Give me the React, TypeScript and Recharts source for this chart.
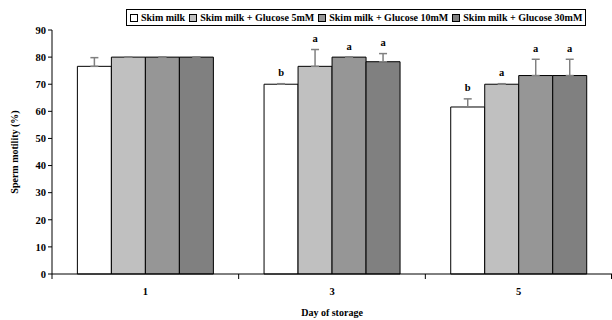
import { BarChart, Bar, XAxis, YAxis, ErrorBar, LabelList, Legend } from 'recharts'

const days = ['1', '3', '5']
const skim = [76.6, 70, 61.6]
const gluc5 = [80, 76.6, 70]
const gluc10 = [80, 80, 73.2]
const gluc30 = [80, 78.3, 73.2]

const skimErr = [3.2, 0.2, 3]
const gluc5Err = [0, 6.2, 0.2]
const gluc10Err = [0, 0, 6]
const gluc30Err = [0, 3, 6]

const skimSig = ['', 'b', 'b']
const gluc5Sig = ['', 'a', 'a']
const gluc10Sig = ['', 'a', 'a']
const gluc30Sig = ['', 'a', 'a']

const yTicks = [0, 10, 20, 30, 40, 50, 60, 70, 80, 90]

const FONT = "'Liberation Serif', 'Times New Roman', serif"

const series = [
  { key: 'skim', name: 'Skim milk', color: '#ffffff', values: skim, err: skimErr, sig: skimSig },
  { key: 'g5', name: 'Skim milk + Glucose 5mM', color: '#c0c0c0', values: gluc5, err: gluc5Err, sig: gluc5Sig },
  { key: 'g10', name: 'Skim milk + Glucose 10mM', color: '#969696', values: gluc10, err: gluc10Err, sig: gluc10Sig },
  { key: 'g30', name: 'Skim milk + Glucose 30mM', color: '#808080', values: gluc30, err: gluc30Err, sig: gluc30Sig },
]

const data = days.map((day, i) => {
  const row: Record<string, unknown> = { day }
  series.forEach(s => {
    row[s.key] = s.values[i]
    row[`${s.key}_err`] = [0, s.err[i]]
    row[`${s.key}_sig`] = s.sig[i]
  })
  return row
})

const TICK_SIZE = 5
const TICK_MARGIN = 2

// Excel-style: tick marks sit between categories, labels in the middle
function DayTick(props: any) {
  const { x, y, payload, index } = props
  const half = payload?.offset || 93.3
  const axisY = y - TICK_SIZE - TICK_MARGIN
  const last = index === days.length - 1
  return (
    <g>
      <line x1={x - half} y1={axisY} x2={x - half} y2={axisY + TICK_SIZE} stroke="#000" />
      {last && <line x1={x + half - 0.5} y1={axisY} x2={x + half - 0.5} y2={axisY + TICK_SIZE} stroke="#000" />}
      <text x={x} y={axisY + 21} textAnchor="middle" fill="#000" fontFamily={FONT} fontWeight="bold" fontSize={10.5}>
        {payload.value}
      </text>
    </g>
  )
}

function LegendBox() {
  return (
    <div
      style={{
        display: 'flex',
        alignItems: 'center',
        border: '1px solid #000',
        padding: '1px 3px',
        background: '#fff',
        fontFamily: FONT,
        fontWeight: 'bold',
        fontSize: 10,
        whiteSpace: 'nowrap',
        lineHeight: '13px',
      }}
    >
      {series.map((s, i) => (
        <span key={s.key} style={{ display: 'flex', alignItems: 'center', marginLeft: i ? 4 : 0 }}>
          <span
            style={{
              display: 'inline-block',
              width: 6,
              height: 6,
              border: '1px solid #000',
              background: s.color,
              marginRight: 3,
            }}
          />
          {s.name}
        </span>
      ))}
    </div>
  )
}

export default function App() {
  const tickStyle = { fill: '#000', fontSize: 10.5, fontFamily: FONT, fontWeight: 'bold' }
  return (
    <div style={{ position: 'absolute', left: 0, top: 0, background: '#fff' }}>
      <BarChart
        width={612}
        height={320}
        data={data}
        margin={{ top: 30, right: 0, bottom: 0, left: 0 }}
        barCategoryGap="13.6%"
        barGap={0}
      >
        <XAxis
          dataKey="day"
          stroke="#000"
          tickLine={{ stroke: 'none' }}
          tickSize={TICK_SIZE}
          tickMargin={TICK_MARGIN}
          tick={<DayTick />}
          interval={0}
          height={46}
          label={{
            value: 'Day of storage',
            position: 'insideBottom',
            offset: 4,
            style: { fill: '#000', fontSize: 10, fontFamily: FONT, fontWeight: 'bold' },
          }}
        />
        <YAxis
          domain={[0, 90]}
          ticks={yTicks}
          width={52}
          stroke="#000"
          tickSize={4}
          tick={tickStyle}
          interval={0}
          label={{
            value: 'Sperm motility (%)',
            angle: -90,
            position: 'insideLeft',
            offset: 14,
            style: { textAnchor: 'middle', fill: '#000', fontSize: 10, fontFamily: FONT, fontWeight: 'bold' },
          }}
        />
        <Legend
          layout="horizontal"
          verticalAlign="middle"
          align="center"
          wrapperStyle={{ top: 9, left: 126, width: 'auto' }}
          content={() => <LegendBox />}
        />
        {series.map(s => (
          <Bar
            key={s.key}
            dataKey={s.key}
            name={s.name}
            fill={s.color}
            stroke="#000"
            strokeWidth={1}
            isAnimationActive={false}
          >
            <ErrorBar dataKey={`${s.key}_err`} direction="y" width={4} stroke="#808080" strokeWidth={1.5} />
            <LabelList
              dataKey={`${s.key}_sig`}
              content={(p: any) => {
                const { x, y, width, height, value, index } = p
                if (!value) return null
                const pxPerUnit = height / s.values[index]
                return (
                  <text
                    x={x + width / 2}
                    y={y - s.err[index] * pxPerUnit - 11}
                    textAnchor="middle"
                    dominantBaseline="central"
                    fontFamily={FONT}
                    fontWeight="bold"
                    fontSize={10.5}
                    fill="#000"
                  >
                    {value}
                  </text>
                )
              }}
            />
          </Bar>
        ))}
      </BarChart>
    </div>
  )
}
